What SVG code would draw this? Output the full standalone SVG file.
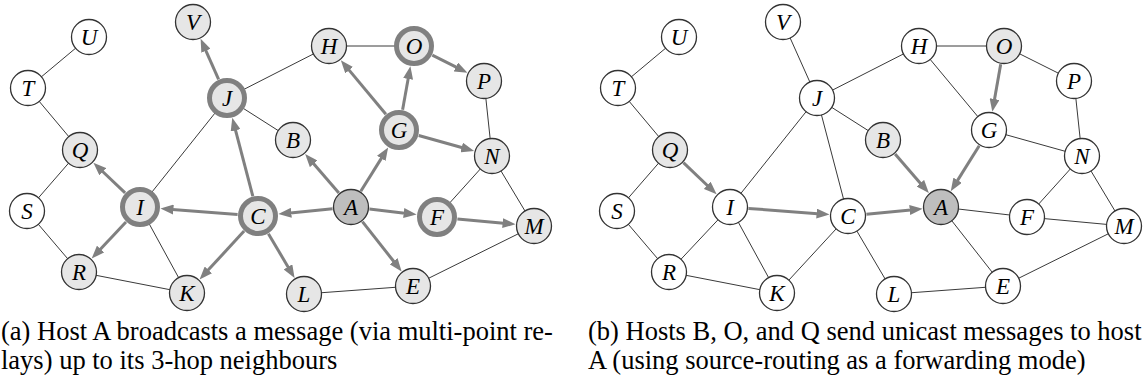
<svg xmlns="http://www.w3.org/2000/svg" width="1143" height="385" viewBox="0 0 1143 385">
<style>
.e{stroke:#3a3a3a;stroke-width:1;fill:none}
.ar{stroke:#808080;stroke-width:3;fill:none;marker-end:url(#ah)}
.n{fill:#ffffff;stroke:#333333;stroke-width:1.3}
.l{fill:#e6e6e6;stroke:#333333;stroke-width:1.3}
.d{fill:#bebebe;stroke:#333333;stroke-width:1.3}
.r{fill:#e6e6e6;stroke:#808080;stroke-width:5}
.t{font-family:'Liberation Serif',serif;font-style:italic;font-size:23px;text-anchor:middle;fill:#000}
.c{font-family:'Liberation Serif',serif;font-size:26.5px;fill:#000}
</style>
<defs>
<marker id="ah" viewBox="0 0 13 10" refX="1" refY="5" markerWidth="13" markerHeight="10" markerUnits="userSpaceOnUse" orient="auto">
<path d="M0,0 L13,5 L0,10 z" fill="#808080"/>
</marker>
</defs>
<g id="connectors">
<g id="edges-a">
<line class="e" x1="89" y1="37" x2="28" y2="88"/>
<line class="e" x1="28" y1="88" x2="80" y2="150"/>
<line class="e" x1="80" y1="150" x2="27" y2="211"/>
<line class="e" x1="27" y1="211" x2="79" y2="272"/>
<line class="e" x1="79" y1="272" x2="187" y2="293"/>
<line class="e" x1="140" y1="207" x2="187" y2="293"/>
<line class="e" x1="140" y1="207" x2="227" y2="98"/>
<line class="e" x1="227" y1="98" x2="329" y2="46"/>
<line class="e" x1="227" y1="98" x2="293" y2="140"/>
<line class="e" x1="329" y1="46" x2="414" y2="46"/>
<line class="e" x1="484" y1="81" x2="492" y2="156"/>
<line class="e" x1="492" y1="156" x2="437" y2="217"/>
<line class="e" x1="492" y1="156" x2="534" y2="226"/>
<line class="e" x1="304" y1="294" x2="413" y2="286"/>
<line class="e" x1="413" y1="286" x2="534" y2="226"/>
<line class="ar" x1="338.9" y1="193.0" x2="313.0" y2="163.1"/>
<line class="ar" x1="360.8" y1="191.3" x2="381.8" y2="157.6"/>
<line class="ar" x1="332.6" y1="208.8" x2="290.3" y2="212.9"/>
<line class="ar" x1="369.4" y1="209.1" x2="404.7" y2="213.2"/>
<line class="ar" x1="362.4" y1="221.6" x2="394.2" y2="262.0"/>
<line class="ar" x1="385.9" y1="114.3" x2="348.5" y2="69.4"/>
<line class="ar" x1="402.6" y1="109.8" x2="408.3" y2="78.0"/>
<line class="ar" x1="418.7" y1="135.5" x2="462.6" y2="147.8"/>
<line class="ar" x1="432.3" y1="55.2" x2="456.7" y2="67.4"/>
<line class="ar" x1="457.4" y1="218.9" x2="503.6" y2="223.2"/>
<line class="ar" x1="252.8" y1="196.2" x2="235.3" y2="129.4"/>
<line class="ar" x1="237.6" y1="214.4" x2="172.4" y2="209.5"/>
<line class="ar" x1="244.1" y1="231.1" x2="207.7" y2="270.6"/>
<line class="ar" x1="268.4" y1="233.7" x2="288.5" y2="267.7"/>
<line class="ar" x1="218.6" y1="79.3" x2="205.5" y2="49.8"/>
<line class="ar" x1="125.1" y1="192.9" x2="102.1" y2="171.0"/>
<line class="ar" x1="126.0" y1="222.0" x2="99.9" y2="249.8"/>
</g>
<g id="edges-b">
<line class="e" x1="679" y1="37" x2="618" y2="88"/>
<line class="e" x1="618" y1="88" x2="670" y2="150"/>
<line class="e" x1="670" y1="150" x2="617" y2="211"/>
<line class="e" x1="617" y1="211" x2="669" y2="272"/>
<line class="e" x1="669" y1="272" x2="730" y2="207"/>
<line class="e" x1="669" y1="272" x2="777" y2="293"/>
<line class="e" x1="730" y1="207" x2="777" y2="293"/>
<line class="e" x1="730" y1="207" x2="817" y2="98"/>
<line class="e" x1="817" y1="98" x2="783" y2="22"/>
<line class="e" x1="817" y1="98" x2="919" y2="46"/>
<line class="e" x1="817" y1="98" x2="883" y2="140"/>
<line class="e" x1="817" y1="98" x2="848" y2="216"/>
<line class="e" x1="777" y1="293" x2="848" y2="216"/>
<line class="e" x1="848" y1="216" x2="894" y2="294"/>
<line class="e" x1="919" y1="46" x2="1004" y2="46"/>
<line class="e" x1="919" y1="46" x2="989" y2="130"/>
<line class="e" x1="1004" y1="46" x2="1074" y2="81"/>
<line class="e" x1="989" y1="130" x2="1082" y2="156"/>
<line class="e" x1="1074" y1="81" x2="1082" y2="156"/>
<line class="e" x1="1082" y1="156" x2="1027" y2="217"/>
<line class="e" x1="1082" y1="156" x2="1124" y2="226"/>
<line class="e" x1="941" y1="207" x2="1027" y2="217"/>
<line class="e" x1="941" y1="207" x2="1003" y2="286"/>
<line class="e" x1="1027" y1="217" x2="1124" y2="226"/>
<line class="e" x1="894" y1="294" x2="1003" y2="286"/>
<line class="e" x1="1003" y1="286" x2="1124" y2="226"/>
<line class="ar" x1="683.4" y1="162.7" x2="707.9" y2="186.0"/>
<line class="ar" x1="748.4" y1="208.4" x2="817.6" y2="213.7"/>
<line class="ar" x1="866.4" y1="214.2" x2="910.7" y2="209.9"/>
<line class="ar" x1="895.1" y1="154.0" x2="921.0" y2="183.9"/>
<line class="ar" x1="1000.7" y1="64.2" x2="994.4" y2="100.0"/>
<line class="ar" x1="979.2" y1="145.7" x2="957.1" y2="181.1"/>
</g>
</g>
<g id="nodes-a">
<g id="a-U"><circle class="n" cx="89" cy="37" r="17.5"/><text class="t" x="89" y="45">U</text></g>
<g id="a-T"><circle class="n" cx="28" cy="88" r="17.5"/><text class="t" x="28" y="96">T</text></g>
<g id="a-V"><circle class="l" cx="193" cy="22" r="17.5"/><text class="t" x="193" y="30">V</text></g>
<g id="a-J"><circle class="r" cx="227" cy="98" r="17.5"/><text class="t" x="227" y="106">J</text></g>
<g id="a-Q"><circle class="l" cx="80" cy="150" r="17.5"/><text class="t" x="80" y="158">Q</text></g>
<g id="a-H"><circle class="l" cx="329" cy="46" r="17.5"/><text class="t" x="329" y="54">H</text></g>
<g id="a-O"><circle class="r" cx="414" cy="46" r="17.5"/><text class="t" x="414" y="54">O</text></g>
<g id="a-P"><circle class="l" cx="484" cy="81" r="17.5"/><text class="t" x="484" y="89">P</text></g>
<g id="a-G"><circle class="r" cx="399" cy="130" r="17.5"/><text class="t" x="399" y="138">G</text></g>
<g id="a-B"><circle class="l" cx="293" cy="140" r="17.5"/><text class="t" x="293" y="148">B</text></g>
<g id="a-N"><circle class="l" cx="492" cy="156" r="17.5"/><text class="t" x="492" y="164">N</text></g>
<g id="a-S"><circle class="n" cx="27" cy="211" r="17.5"/><text class="t" x="27" y="219">S</text></g>
<g id="a-I"><circle class="r" cx="140" cy="207" r="17.5"/><text class="t" x="140" y="215">I</text></g>
<g id="a-C"><circle class="r" cx="258" cy="216" r="17.5"/><text class="t" x="258" y="224">C</text></g>
<g id="a-A"><circle class="d" cx="351" cy="207" r="17.5"/><text class="t" x="351" y="215">A</text></g>
<g id="a-F"><circle class="r" cx="437" cy="217" r="17.5"/><text class="t" x="437" y="225">F</text></g>
<g id="a-M"><circle class="l" cx="534" cy="226" r="17.5"/><text class="t" x="534" y="234">M</text></g>
<g id="a-R"><circle class="l" cx="79" cy="272" r="17.5"/><text class="t" x="79" y="280">R</text></g>
<g id="a-K"><circle class="l" cx="187" cy="293" r="17.5"/><text class="t" x="187" y="301">K</text></g>
<g id="a-L"><circle class="l" cx="304" cy="294" r="17.5"/><text class="t" x="304" y="302">L</text></g>
<g id="a-E"><circle class="l" cx="413" cy="286" r="17.5"/><text class="t" x="413" y="294">E</text></g>
</g>
<g id="nodes-b">
<g id="b-U"><circle class="n" cx="679" cy="37" r="17.5"/><text class="t" x="679" y="45">U</text></g>
<g id="b-T"><circle class="n" cx="618" cy="88" r="17.5"/><text class="t" x="618" y="96">T</text></g>
<g id="b-V"><circle class="n" cx="783" cy="22" r="17.5"/><text class="t" x="783" y="30">V</text></g>
<g id="b-J"><circle class="n" cx="817" cy="98" r="17.5"/><text class="t" x="817" y="106">J</text></g>
<g id="b-Q"><circle class="l" cx="670" cy="150" r="17.5"/><text class="t" x="670" y="158">Q</text></g>
<g id="b-H"><circle class="n" cx="919" cy="46" r="17.5"/><text class="t" x="919" y="54">H</text></g>
<g id="b-O"><circle class="l" cx="1004" cy="46" r="17.5"/><text class="t" x="1004" y="54">O</text></g>
<g id="b-P"><circle class="n" cx="1074" cy="81" r="17.5"/><text class="t" x="1074" y="89">P</text></g>
<g id="b-G"><circle class="n" cx="989" cy="130" r="17.5"/><text class="t" x="989" y="138">G</text></g>
<g id="b-B"><circle class="l" cx="883" cy="140" r="17.5"/><text class="t" x="883" y="148">B</text></g>
<g id="b-N"><circle class="n" cx="1082" cy="156" r="17.5"/><text class="t" x="1082" y="164">N</text></g>
<g id="b-S"><circle class="n" cx="617" cy="211" r="17.5"/><text class="t" x="617" y="219">S</text></g>
<g id="b-I"><circle class="n" cx="730" cy="207" r="17.5"/><text class="t" x="730" y="215">I</text></g>
<g id="b-C"><circle class="n" cx="848" cy="216" r="17.5"/><text class="t" x="848" y="224">C</text></g>
<g id="b-A"><circle class="d" cx="941" cy="207" r="17.5"/><text class="t" x="941" y="215">A</text></g>
<g id="b-F"><circle class="n" cx="1027" cy="217" r="17.5"/><text class="t" x="1027" y="225">F</text></g>
<g id="b-M"><circle class="n" cx="1124" cy="226" r="17.5"/><text class="t" x="1124" y="234">M</text></g>
<g id="b-R"><circle class="n" cx="669" cy="272" r="17.5"/><text class="t" x="669" y="280">R</text></g>
<g id="b-K"><circle class="n" cx="777" cy="293" r="17.5"/><text class="t" x="777" y="301">K</text></g>
<g id="b-L"><circle class="n" cx="894" cy="294" r="17.5"/><text class="t" x="894" y="302">L</text></g>
<g id="b-E"><circle class="n" cx="1003" cy="286" r="17.5"/><text class="t" x="1003" y="294">E</text></g>
</g>
<g id="captions">
<text class="c" x="1" y="339.5">(a) Host A broadcasts a message (via multi-point re-</text>
<text class="c" x="1" y="369">lays) up to its 3-hop neighbours</text>
<text class="c" x="588" y="339.5">(b) Hosts B, O, and Q send unicast messages to host</text>
<text class="c" x="588" y="369">A (using source-routing as a forwarding mode)</text>
</g>
</svg>
